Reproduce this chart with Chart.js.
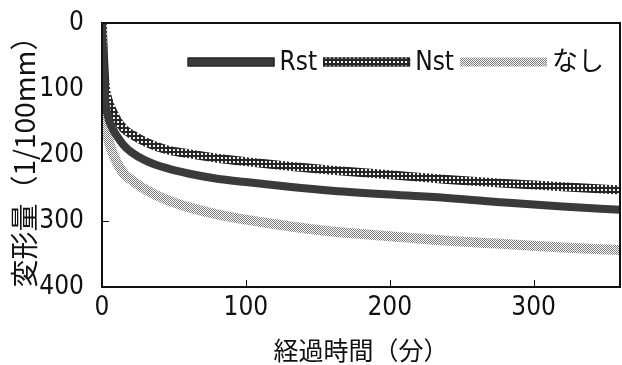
<!DOCTYPE html>
<html>
<head>
<meta charset="utf-8">
<script src="https://cdn.jsdelivr.net/npm/chart.js@4"></script>
<style>
  html, body { margin: 0; padding: 0; background: #fff; }
  canvas { display: block; }
</style>
</head>
<body>
<canvas id="deformChart" width="622" height="365"></canvas>
<script>
// elapsed time (min) and deformation (1/100 mm)
const timeMin = [0, 1, 2, 4, 7, 10, 15, 20, 30, 45, 60, 80, 100, 130, 160, 200, 240, 280, 320, 360];
const rstValues = [0, 60, 110, 140, 158, 170, 185, 195, 208, 220, 228, 236, 241, 248, 254, 260, 265, 272, 278, 283];
const nstValues = [0, 50, 90, 115, 132, 145, 160, 168, 180, 192, 198, 205, 210, 217, 223, 230, 237, 243, 248, 253];
const noneValues = [0, 80, 140, 172, 195, 210, 228, 237, 252, 268, 279, 290, 298, 308, 316, 323, 330, 335, 340, 344];
const seriesNames = ["Rst", "Nst", "なし"];
const xTickValues = [100, 200, 300];
const yTickValues = [300];

const latinFont = "'DejaVu Sans Condensed', 'Noto Sans CJK JP', sans-serif";
const cjkFont = "'Noto Sans CJK JP', sans-serif";

// small repeating tiles to imitate the printed line fills
function makePattern(size, bg, fg, cells) {
  const c = document.createElement("canvas");
  c.width = size;
  c.height = size;
  const g = c.getContext("2d");
  g.fillStyle = bg;
  g.fillRect(0, 0, size, size);
  g.fillStyle = fg;
  cells.forEach(([x, y, w, h]) => g.fillRect(x, y, w, h));
  return g.createPattern(c, "repeat");
}

const rstColor = "#3a3a3a";
const nstPattern = makePattern(4, "#262626", "#f0f0f0", [[1, 1, 2, 2]]);
const nonePattern = makePattern(2, "#ffffff", "#7c7c7c", [[0, 0, 1, 1], [1, 1, 1, 1]]);

function toPoints(values) {
  return values.map((v, i) => ({ x: timeMin[i], y: v }));
}

// legend drawn inside the plot, one row, right aligned
const plotLegend = {
  id: "plotLegend",
  afterDatasetsDraw(chart) {
    const { ctx, chartArea: a } = chart;
    const boxW = 87;
    const boxH = 9;
    const rowY = a.top + 39;
    ctx.save();
    ctx.font = "26px " + latinFont;
    ctx.textBaseline = "middle";
    let x = a.right - 16;
    for (let i = chart.data.datasets.length - 1; i >= 0; i--) {
      const ds = chart.data.datasets[i];
      const w = ctx.measureText(ds.label).width;
      ctx.fillStyle = "#111";
      ctx.fillText(ds.label, x - w, rowY + 1);
      const bx = x - w - 5 - boxW;
      ctx.fillStyle = ds.borderColor;
      ctx.fillRect(bx, rowY - boxH / 2, boxW, boxH);
      if (i < 2) {
        ctx.strokeStyle = "#1a1a1a";
        ctx.lineWidth = 1;
        ctx.strokeRect(bx + 0.5, rowY - boxH / 2 + 0.5, boxW - 1, boxH - 1);
      }
      x = bx - 6;
    }
    ctx.restore();
  },
};

// box around the plot plus the short inward tick marks
const plotFrame = {
  id: "plotFrame",
  afterDatasetsDraw(chart) {
    const { ctx, chartArea: a, scales } = chart;
    ctx.save();
    ctx.strokeStyle = "#111";
    ctx.lineWidth = 1;
    xTickValues.forEach((v) => {
      const x = Math.round(scales.x.getPixelForValue(v)) + 0.5;
      ctx.beginPath();
      ctx.moveTo(x, a.bottom);
      ctx.lineTo(x, a.bottom - 7);
      ctx.stroke();
    });
    yTickValues.forEach((v) => {
      const y = Math.round(scales.y.getPixelForValue(v)) + 0.5;
      ctx.beginPath();
      ctx.moveTo(a.left, y);
      ctx.lineTo(a.left + 7, y);
      ctx.stroke();
    });
    ctx.lineWidth = 2;
    ctx.strokeRect(a.left, a.top, a.right - a.left, a.bottom - a.top);
    ctx.restore();
  },
};

const data = {
  datasets: [
    {
      label: seriesNames[0],
      data: toPoints(rstValues),
      borderColor: rstColor,
      backgroundColor: rstColor,
      borderWidth: 8,
    },
    {
      label: seriesNames[1],
      data: toPoints(nstValues),
      borderColor: nstPattern,
      backgroundColor: nstPattern,
      borderWidth: 9,
    },
    {
      label: seriesNames[2],
      data: toPoints(noneValues),
      borderColor: nonePattern,
      backgroundColor: nonePattern,
      borderWidth: 10,
    },
  ],
};

// tick marks kept only for spacing, drawn invisible
const hiddenTicks = {
  display: true,
  drawOnChartArea: false,
  drawTicks: true,
  tickColor: "rgba(0,0,0,0)",
};

const config = {
  type: "line",
  data: data,
  plugins: [plotFrame, plotLegend],
  options: {
    responsive: false,
    animation: false,
    devicePixelRatio: 1,
    layout: { padding: { top: 23, right: 2, left: 0, bottom: 0 } },
    elements: {
      point: { radius: 0 },
      line: { cubicInterpolationMode: "monotone", borderCapStyle: "butt" },
    },
    scales: {
      x: {
        type: "linear",
        min: 0,
        max: 360,
        grid: { ...hiddenTicks, tickLength: 6 },
        border: { display: false },
        ticks: {
          stepSize: 100,
          includeBounds: false,
          padding: 0,
          color: "#111",
          font: { family: latinFont, size: 26 },
          maxRotation: 0,
        },
        title: {
          display: true,
          text: "経過時間（分）",
          color: "#111",
          font: { family: cjkFont, size: 25 },
          padding: { top: 0, bottom: 0 },
        },
        afterFit(scale) {
          scale.height = 78;
        },
      },
      y: {
        reverse: true,
        min: 0,
        max: 400,
        grid: { ...hiddenTicks, tickLength: 18 },
        border: { display: false },
        ticks: {
          stepSize: 100,
          padding: 0,
          color: "#111",
          font: { family: latinFont, size: 26 },
        },
        title: {
          display: true,
          text: "変形量（1/100mm）",
          color: "#111",
          font: { family: cjkFont, size: 28 },
          padding: { top: 8, bottom: 0 },
        },
        afterFit(scale) {
          scale.width = 102;
        },
      },
    },
    plugins: {
      legend: { display: false },
      tooltip: { enabled: false },
    },
  },
};

new Chart(document.getElementById("deformChart").getContext("2d"), config);
</script>
</body>
</html>
